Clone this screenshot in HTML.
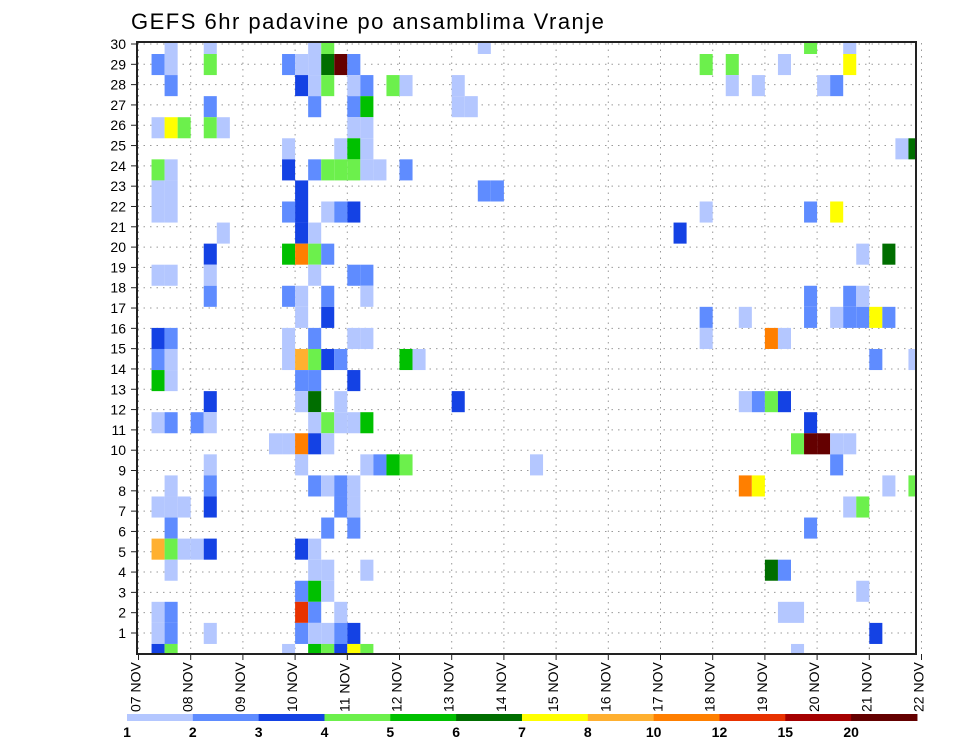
<!DOCTYPE html>
<html><head><meta charset="utf-8"><style>
html,body{margin:0;padding:0;background:#fff;}
svg{display:block;font-family:"Liberation Sans",sans-serif;}
</style></head><body>
<svg id="chart" width="960" height="742" viewBox="0 0 960 742" xmlns="http://www.w3.org/2000/svg">
<text x="131" y="29" font-size="22" letter-spacing="1.5" fill="#000">GEFS 6hr padavine po ansamblima Vranje</text>
<g id="grid"></g>
<g id="cells"></g>
<g id="axes"></g>
<g id="legend"></g>
</svg>
<script>
// ---- data ----
const dateLabels = ["07","08","09","10","11","12","13","14","15","16","17","18","19","20","21","22"];
const memberTicks = [1,2,3,4,5,6,7,8,9,10,11,12,13,14,15,16,17,18,19,20,21,22,23,24,25,26,27,28,29,30];
const legendLabels = ["1","2","3","4","5","6","7","8","10","12","15","20"];
const thresholds = [1,2,3,4,5,6,7,8,10,12,15,20];
const levelColors = ["#b4c7ff","#5f8cff","#1442e4","#6cf04c","#00c000","#006e00","#ffff00","#ffb030","#ff7f00","#e83200","#a50000","#640000"];
// cells: member band (30 = top), 6h step index, precipitation (mm)
const cellMembers = [
30,30,30,30,30,30,30,
29,29,29,29,29,29,29,29,29,29,29,29,29,
28,28,28,28,28,28,28,28,28,28,28,28,28,
27,27,27,27,27,27,
26,26,26,26,26,26,26,
25,25,25,25,25,25,
24,24,24,24,24,24,24,24,24,24,
23,23,23,23,23,
22,22,22,22,22,22,22,22,22,22,
21,21,21,21,
20,20,20,20,20,20,20,
19,19,19,19,19,19,
18,18,18,18,18,18,18,18,
17,17,17,17,17,17,17,17,17,17,
16,16,16,16,16,16,16,16,16,
15,15,15,15,15,15,15,15,15,15,15,
14,14,14,14,14,
13,13,13,13,13,13,13,13,13,
12,12,12,12,12,12,12,12,12,12,
11,11,11,11,11,11,11,11,11,11,
10,10,10,10,10,10,10,10,
9,9,9,9,9,9,9,9,9,9,
8,8,8,8,8,8,8,8,
7,7,7,7,
6,6,6,6,6,6,6,
5,5,5,5,5,5,
4,4,4,4,
3,3,3,3,3,3,3,
2,2,2,2,2,2,2,2,2,
1,1,1,1,1,1,1,1,1];
const cellSteps = [
2,5,13,14,26,51,54,
1,2,5,11,12,13,14,15,16,43,45,49,54,
2,12,13,14,16,17,19,20,24,45,47,52,53,
5,13,16,17,24,25,
1,2,3,5,6,16,17,
11,15,16,17,58,59,
1,2,11,13,14,15,16,17,18,20,
1,2,12,26,27,
1,2,11,12,14,15,16,43,51,53,
6,12,13,41,
5,11,12,13,14,55,57,
1,2,5,13,16,17,
5,11,12,14,17,51,54,55,
12,14,43,46,51,53,54,55,56,57,
1,2,11,13,16,17,43,48,49,
1,2,11,12,13,14,15,20,21,56,59,
1,2,12,13,16,
5,12,13,15,24,46,47,48,49,
1,2,4,5,13,14,15,16,17,51,
10,11,12,13,14,50,51,52,53,54,
5,12,17,18,19,20,30,53,
2,5,13,14,15,16,46,47,57,59,
1,2,3,5,15,16,54,55,
2,14,16,51,
1,2,3,4,5,12,13,
2,13,14,17,48,49,
12,13,14,55,
1,2,12,13,15,49,50,
1,2,5,12,13,14,15,16,56,
1,2,11,13,14,15,16,17,50];
const cellValues = [
1.5,1.5,1.5,4.5,1.5,4.5,1.5,
2.5,1.5,4.5,2.5,1.5,1.5,6.5,22,2.5,4.5,4.5,1.5,7.5,
2.5,3.5,1.5,4.5,1.5,2.5,4.5,1.5,1.5,1.5,1.5,1.5,2.5,
2.5,2.5,2.5,5.5,1.5,1.5,
1.5,7.5,4.5,4.5,1.5,1.5,1.5,
1.5,1.5,5.5,1.5,1.5,6.5,
4.5,1.5,3.5,2.5,4.5,4.5,4.5,1.5,1.5,2.5,
1.5,1.5,3.5,2.5,2.5,
1.5,1.5,2.5,3.5,1.5,2.5,3.5,1.5,2.5,7.5,
1.5,3.5,1.5,3.5,
3.5,5.5,11,4.5,2.5,1.5,6.5,
1.5,1.5,1.5,1.5,2.5,2.5,
2.5,2.5,1.5,2.5,1.5,2.5,2.5,1.5,
1.5,3.5,2.5,1.5,2.5,1.5,2.5,2.5,7.5,2.5,
3.5,2.5,1.5,2.5,1.5,1.5,1.5,11,1.5,
2.5,1.5,1.5,9,4.5,3.5,2.5,5.5,1.5,2.5,1.5,
5.5,1.5,2.5,2.5,3.5,
3.5,1.5,6.5,1.5,3.5,1.5,2.5,4.5,3.5,
1.5,2.5,2.5,1.5,1.5,4.5,1.5,1.5,5.5,3.5,
1.5,1.5,11,3.5,1.5,4.5,22,22,1.5,1.5,
1.5,1.5,1.5,2.5,5.5,4.5,1.5,2.5,
1.5,2.5,2.5,1.5,2.5,1.5,11,7.5,1.5,4.5,
1.5,1.5,1.5,3.5,2.5,1.5,1.5,4.5,
2.5,2.5,2.5,2.5,
9,4.5,1.5,1.5,3.5,3.5,1.5,
1.5,1.5,1.5,1.5,6.5,2.5,
2.5,5.5,1.5,1.5,
1.5,2.5,13,2.5,1.5,1.5,1.5,
1.5,2.5,1.5,2.5,1.5,1.5,2.5,3.5,3.5,
3.5,4.5,1.5,5.5,4.5,3.5,7.5,4.5,1.5];

// ---- scales ----
const PL=137, PR=916, PT=43, PB=654;
const X0=138.5, STEP=13.05, DAY=STEP*4;
function xStep(s){return X0+STEP*s;}
function xDay(d){return X0+DAY*d;}
function bandTop(m){const b=30-m; return b===0?PT:54+21.07*(b-1);}
function bandBottom(m){const b=30-m; return b===29?PB:54+21.07*b;}
function yTick(r){return 653.3-20.31*r;}
function colorFor(v){let i=0;for(let k=0;k<thresholds.length;k++){if(v>=thresholds[k])i=k;}return levelColors[i];}

const NS="http://www.w3.org/2000/svg";
function mk(tag,attrs,parent){const e=document.createElementNS(NS,tag);for(const k in attrs)e.setAttribute(k,attrs[k]);parent.appendChild(e);return e;}

const grid=document.getElementById('grid');
memberTicks.forEach(r=>{
  const l=mk('line',{x1:PL,x2:PR,y1:yTick(r),y2:yTick(r),stroke:'#999','stroke-width':1,'stroke-dasharray':'1.5,5'},grid);
  
  
});
dateLabels.forEach((d,i)=>{
  const l=mk('line',{x1:xDay(i),x2:xDay(i),y1:PT,y2:PB,stroke:'#999','stroke-width':1,'stroke-dasharray':'1.5,5'},grid);
  
  
});

const cells=document.getElementById('cells');
for(let i=0;i<cellValues.length;i++){
  const x=Math.max(PL,xStep(cellSteps[i]));
  const x2=Math.min(PR,xStep(cellSteps[i]+1));
  const y=bandTop(cellMembers[i]), y2=bandBottom(cellMembers[i]);
  const r=mk('rect',{x:x,y:y,width:x2-x,height:y2-y,fill:colorFor(cellValues[i])},cells);
  
  
}

const axes=document.getElementById('axes');
const fr=mk('rect',{x:PL,y:42,width:PR-PL,height:PB-42,fill:'none',stroke:'#222','stroke-width':2},axes);


memberTicks.forEach(r=>{
  const t=mk('line',{x1:PL-6,x2:PL,y1:yTick(r),y2:yTick(r),stroke:'#222','stroke-width':1},axes);
  
  
  const tx=mk('text',{x:PL-11,y:yTick(r)+5,'font-size':14,'text-anchor':'end',fill:'#000'},axes);
  tx.textContent=r;
  
  
});
dateLabels.forEach((d,i)=>{
  const x=xDay(i);
  const t=mk('line',{x1:x,x2:x,y1:PB,y2:PB+6,stroke:'#222','stroke-width':1},axes);
  
  
  const tx=mk('text',{x:0,y:0,'font-size':14,fill:'#000',transform:'translate('+(x+2)+',712) rotate(-90)'},axes);
  tx.textContent=d+' NOV';
  
  
});

const lg=document.getElementById('legend');
const LX=127, LW=65.83;
levelColors.forEach((c,i)=>{
  const r=mk('rect',{x:LX+LW*i,y:714,width:LW+0.5,height:7,fill:c},lg);
  
  
});
legendLabels.forEach((s,i)=>{
  const t=mk('text',{x:LX+LW*i,y:737,'font-size':14,'font-weight':'bold','text-anchor':'middle',fill:'#000'},lg);
  t.textContent=s;
  
  
});
</script>
</body></html>
